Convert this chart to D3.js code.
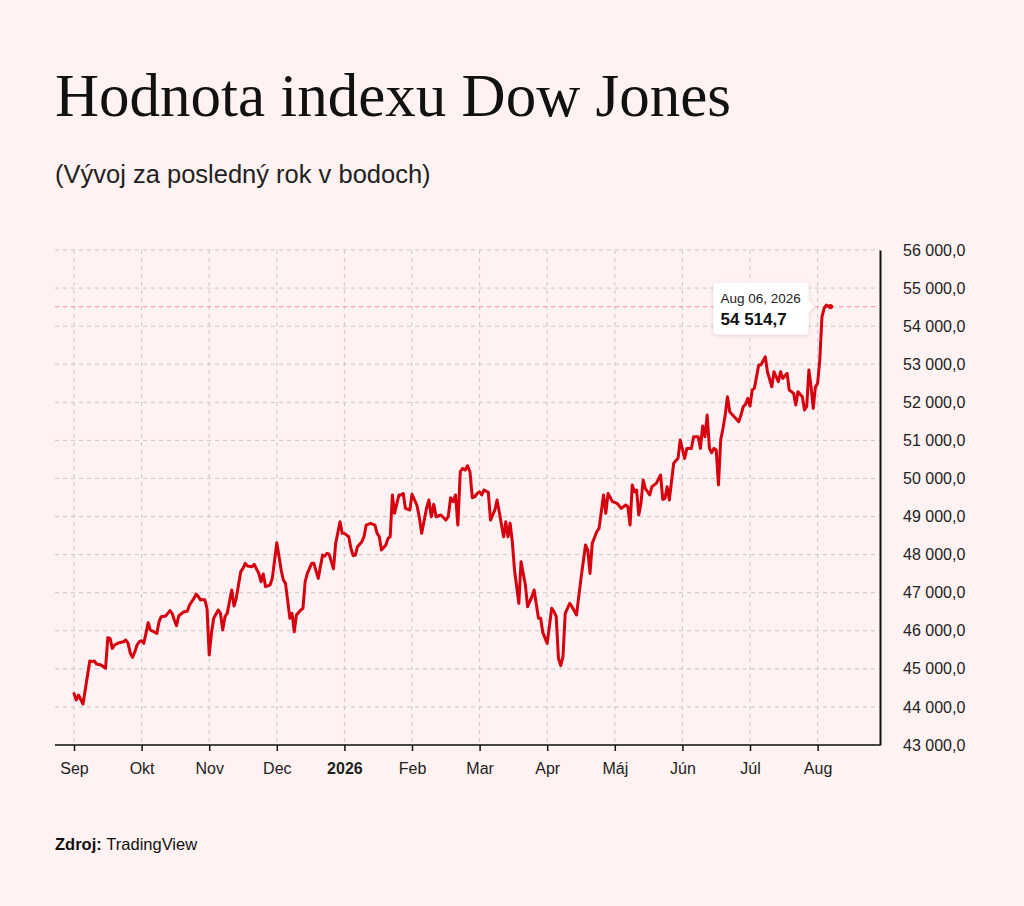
<!DOCTYPE html>
<html>
<head>
<meta charset="utf-8">
<script src="https://cdn.jsdelivr.net/npm/d3@7"></script>
<style>
  body { margin: 0; background: #fff2f2; }
  svg { display: block; }
</style>
</head>
<body>
<svg id="chart" width="1024" height="906"></svg>
<script>
// --- data ---
const dates = [
  "2025-09-01","2025-09-02","2025-09-03","2025-09-05","2025-09-08","2025-09-09","2025-09-10","2025-09-11","2025-09-13","2025-09-15","2025-09-16","2025-09-17","2025-09-18","2025-09-19","2025-09-21","2025-09-23","2025-09-24","2025-09-25","2025-09-26","2025-09-27","2025-09-28","2025-09-29","2025-09-30",
  "2025-10-01","2025-10-02","2025-10-03","2025-10-04","2025-10-05","2025-10-06","2025-10-08","2025-10-09","2025-10-10","2025-10-12","2025-10-13","2025-10-14","2025-10-15","2025-10-16","2025-10-17","2025-10-18","2025-10-20","2025-10-22","2025-10-23","2025-10-25","2025-10-26","2025-10-27","2025-10-28","2025-10-29","2025-10-30","2025-10-31",
  "2025-11-01","2025-11-02","2025-11-03","2025-11-05","2025-11-06","2025-11-07","2025-11-08","2025-11-09","2025-11-11","2025-11-12","2025-11-13","2025-11-15","2025-11-16","2025-11-17","2025-11-18","2025-11-20","2025-11-21","2025-11-23","2025-11-24","2025-11-25","2025-11-26","2025-11-28","2025-11-29",
  "2025-12-01","2025-12-03","2025-12-04","2025-12-05","2025-12-07","2025-12-08","2025-12-09","2025-12-10","2025-12-12","2025-12-13","2025-12-14","2025-12-15","2025-12-17","2025-12-18","2025-12-20","2025-12-22","2025-12-23","2025-12-24","2025-12-25","2025-12-27","2025-12-28","2025-12-30","2025-12-31",
  "2026-01-01","2026-01-03","2026-01-04","2026-01-05","2026-01-06","2026-01-07","2026-01-09","2026-01-10","2026-01-11","2026-01-13","2026-01-15","2026-01-16","2026-01-17","2026-01-18","2026-01-20","2026-01-21","2026-01-22","2026-01-23","2026-01-24","2026-01-26","2026-01-27","2026-01-28","2026-01-29","2026-01-31",
  "2026-02-01","2026-02-03","2026-02-04","2026-02-05","2026-02-07","2026-02-08","2026-02-09","2026-02-10","2026-02-11","2026-02-13","2026-02-15","2026-02-16","2026-02-17","2026-02-18","2026-02-19","2026-02-20","2026-02-21","2026-02-22","2026-02-23","2026-02-24","2026-02-25","2026-02-26","2026-02-27","2026-02-28",
  "2026-03-01","2026-03-02","2026-03-03","2026-03-05","2026-03-06","2026-03-08","2026-03-09","2026-03-10","2026-03-12","2026-03-13","2026-03-14","2026-03-15","2026-03-16","2026-03-17","2026-03-19","2026-03-20","2026-03-22","2026-03-23","2026-03-25","2026-03-26","2026-03-28","2026-03-29","2026-03-30",
  "2026-04-01","2026-04-03","2026-04-04","2026-04-05","2026-04-06","2026-04-07","2026-04-08","2026-04-09","2026-04-11","2026-04-12","2026-04-14","2026-04-16","2026-04-18","2026-04-19","2026-04-20","2026-04-21","2026-04-23","2026-04-24","2026-04-26","2026-04-27","2026-04-28","2026-04-30",
  "2026-05-02","2026-05-04","2026-05-06","2026-05-07","2026-05-08","2026-05-09","2026-05-10","2026-05-11","2026-05-12","2026-05-13","2026-05-14","2026-05-15","2026-05-16","2026-05-17","2026-05-18","2026-05-20","2026-05-22","2026-05-23","2026-05-24","2026-05-25","2026-05-26","2026-05-28","2026-05-30","2026-05-31",
  "2026-06-02","2026-06-03","2026-06-05","2026-06-06","2026-06-08","2026-06-09","2026-06-10","2026-06-11","2026-06-12","2026-06-13","2026-06-14","2026-06-15","2026-06-16","2026-06-17","2026-06-18","2026-06-19","2026-06-20","2026-06-21","2026-06-22","2026-06-24","2026-06-26","2026-06-27","2026-06-28","2026-06-29","2026-06-30",
  "2026-07-01","2026-07-02","2026-07-03","2026-07-05","2026-07-06","2026-07-08","2026-07-09","2026-07-11","2026-07-12","2026-07-14","2026-07-15","2026-07-16","2026-07-18","2026-07-19","2026-07-21","2026-07-22","2026-07-23","2026-07-25","2026-07-26","2026-07-27","2026-07-28","2026-07-29","2026-07-30","2026-07-31",
  "2026-08-01","2026-08-02","2026-08-03","2026-08-04","2026-08-05","2026-08-06"
];
const values = [
  44350,44182,44313,44077,45206,45188,45206,45127,45100,45014,45818,45800,45539,45626,45687,45713,45757,45670,45408,45303,45450,45626,45713,
  45740,45670,45933,46212,46020,45993,45933,46238,46370,46388,46458,46528,46458,46283,46133,46388,46485,46519,46677,46852,46965,46900,46808,46820,46808,46590,
  45363,45933,46327,46545,46458,46020,46370,46458,47070,46650,46852,47551,47638,47770,47700,47682,47743,47507,47288,47490,47157,47201,47376,
  48312,47595,47333,47245,46327,46458,45975,46414,46545,46590,47288,47507,47770,47770,47376,47990,47963,48033,48010,47625,48300,48864,48558,
  48558,48470,48164,47972,47990,48208,48339,48470,48777,48822,48777,48558,48470,48121,48252,48427,48470,49565,49085,49565,49565,49605,49213,49171,
  49583,49303,48995,48558,49213,49434,48995,49320,48995,49040,48908,48995,49493,49390,49565,48777,50177,50265,50221,50335,50177,49493,49520,49605,
  49650,49565,49697,49636,48908,49171,49434,49126,48470,48864,48470,48822,48339,47600,46721,47813,47201,46632,46895,47070,46327,46327,45950,
  45670,46590,46501,46370,45277,45083,45319,46458,46721,46632,46414,47376,48252,48121,47507,48296,48601,48689,49565,49085,49605,49390,
  49348,49213,49303,49258,48777,49828,49652,49697,49040,49348,49959,49741,49652,49565,49784,49871,50090,49450,49477,49784,49434,50397,50528,51009,
  50528,50790,50790,51096,51096,50790,51377,51096,51666,50790,50676,50790,50750,49828,51009,51314,51666,52146,51753,51622,51490,51666,51884,51950,52102,
  51900,52322,52366,52978,52978,53197,52803,52409,52803,52540,52803,52628,52759,52322,52234,51928,52278,52146,51797,51884,52848,52409,51840,52409,
  52497,53110,54247,54466,54553,54514.7
];
const monthLabels = ["Sep","Okt","Nov","Dec","2026","Feb","Mar","Apr","Máj","Jún","Júl","Aug"];
const yTicks = [43000,44000,45000,46000,47000,48000,49000,50000,51000,52000,53000,54000,55000,56000];

const titleText = "Hodnota indexu Dow Jones";
const subtitleText = "(Vývoj za posledný rok v bodoch)";

// --- chart ---
const drawChart = (svg_name) => {
	let chart = d3.select(svg_name);
	let margin = {left:55, right:144, top:250, bottom:161};
	let width = +chart.attr("width");
	let height = +chart.attr("height");
	let plotRight = width - margin.right;
	let plotBottom = height - margin.bottom;

	let parse = d3.timeParse("%Y-%m-%d");
	let data = dates.map((d,i) => ({date: parse(d), value: values[i]}));

	// months are spaced evenly on the reference, so map each month start to an even step
	let firstTick = 74, monthStep = 67.6;
	let monthStarts = d3.timeMonth.range(new Date(2025,7,1), new Date(2026,8,2));
	let x = d3.scaleTime()
						.domain(monthStarts)
						.range(monthStarts.map((d,i) => firstTick + (i - 1) * monthStep));
	let tickDates = monthStarts.slice(1, 13);

	let y = d3.scaleLinear()
						.domain([43000, 56000])
						.range([plotBottom, margin.top]);

	let skFormat = d3.formatLocale({decimal:",", thousands:" ", grouping:[3], currency:["","€"]}).format(",.1f");

	addTitles(chart, margin);
	addGrid(chart, x, y, tickDates, margin, plotRight, plotBottom);
	addXAxis(chart, x, tickDates, margin, plotRight, plotBottom);
	addYAxis(chart, y, plotRight, skFormat);
	addLine(chart, data, x, y, margin, plotRight);
	addTooltip(chart, data[data.length - 1], x, y, skFormat);
}

const addTitles = (chart, margin) => {
	chart.append("text")
		.attr("x", margin.left).attr("y", 116)
		.style("font-family", "'Liberation Serif', 'Times New Roman', serif")
		.style("font-size", "61px")
		.style("fill", "#111")
		.text(titleText);
	chart.append("text")
		.attr("x", margin.left).attr("y", 183)
		.style("font-family", "'Liberation Sans', Arial, sans-serif")
		.style("font-size", "25.5px")
		.style("fill", "#222")
		.text(subtitleText);
	let src = chart.append("text")
		.attr("x", margin.left).attr("y", 850)
		.style("font-family", "'Liberation Sans', Arial, sans-serif")
		.style("font-size", "16.5px")
		.style("fill", "#111");
	src.append("tspan").style("font-weight", "bold").text("Zdroj: ");
	src.append("tspan").text("TradingView");
}

const addGrid = (chart, x, y, tickDates, margin, plotRight, plotBottom) => {
	let grid = chart.append("g").classed("grid", true)
		.attr("stroke", "#cbc6c6").attr("stroke-width", 1).attr("stroke-dasharray", "4,4");
	grid.selectAll("line.h")
		.data(yTicks)
		.enter().append("line").classed("h", true)
			.attr("x1", margin.left).attr("x2", plotRight)
			.attr("y1", (d) => y(d)).attr("y2", (d) => y(d));
	grid.selectAll("line.v")
		.data(tickDates)
		.enter().append("line").classed("v", true)
			.attr("x1", (d) => x(d)).attr("x2", (d) => x(d))
			.attr("y1", margin.top).attr("y2", plotBottom);
}

const addXAxis = (chart, x, tickDates, margin, plotRight, plotBottom) => {
	let x_axis = d3.axisBottom(x)
		.tickValues(tickDates)
		.tickFormat((d,i) => monthLabels[i])
		.tickSize(6)
		.tickPadding(12);
	let g = chart.append("g")
		.attr("class", "x axis")
		.attr("transform", `translate(0,${plotBottom})`)
		.call(x_axis);
	g.select(".domain").remove();
	g.selectAll(".tick line").attr("stroke", "#111").attr("stroke-width", 1.5);
	g.selectAll(".tick text")
		.style("font-family", "'Liberation Sans', Arial, sans-serif")
		.style("font-size", "16px")
		.style("fill", "#222")
		.style("font-weight", (d,i) => monthLabels[i] === "2026" ? "bold" : "normal");
	chart.append("line")
		.attr("x1", margin.left).attr("x2", plotRight)
		.attr("y1", plotBottom).attr("y2", plotBottom)
		.attr("stroke", "#111").attr("stroke-width", 1.5);
}

const addYAxis = (chart, y, plotRight, fmt) => {
	let y_axis = d3.axisRight(y)
		.tickValues(yTicks)
		.tickFormat(fmt)
		.tickSize(0)
		.tickPadding(23);
	let g = chart.append("g")
		.classed("y axis", true)
		.attr("transform", `translate(${plotRight},0)`)
		.call(y_axis);
	g.select(".domain").attr("stroke", "#111").attr("stroke-width", 2);
	g.selectAll(".tick text")
		.style("font-family", "'Liberation Sans', Arial, sans-serif")
		.style("font-size", "16px")
		.style("fill", "#222");
}

const addLine = (chart, data, x, y, margin, plotRight) => {
	let last = data[data.length - 1];
	chart.append("line")
		.attr("x1", margin.left).attr("x2", plotRight)
		.attr("y1", y(last.value)).attr("y2", y(last.value))
		.attr("stroke", "#f2a3a6").attr("stroke-width", 1.2)
		.attr("stroke-dasharray", "4,4");
	let line = d3.line()
		.x((d) => x(d.date))
		.y((d) => y(d.value));
	chart.append("path")
		.datum(data)
		.attr("d", line)
		.attr("fill", "none")
		.attr("stroke", "#d7000f")
		.attr("stroke-width", 3)
		.attr("stroke-linejoin", "round")
		.attr("stroke-linecap", "round");
	chart.append("circle")
		.attr("cx", x(last.date) + 2).attr("cy", y(last.value))
		.attr("r", 2.6)
		.attr("fill", "#d7000f");
}

const addTooltip = (chart, last, x, y, fmt) => {
	let defs = chart.append("defs");
	defs.append("filter").attr("id", "tipShadow")
		.attr("x", "-20%").attr("y", "-20%").attr("width", "140%").attr("height", "160%")
		.append("feDropShadow")
			.attr("dx", 0).attr("dy", 1).attr("stdDeviation", 2)
			.attr("flood-color", "#000").attr("flood-opacity", 0.15);

	let tipX = x(last.date) - 14, tipY = y(last.value);
	let boxW = 95, boxH = 52, r = 4;
	let right = tipX - 6, left = right - boxW, top = tipY - 24, bottom = top + boxH;
	let path = `M${left + r},${top} H${right - r} Q${right},${top} ${right},${top + r}
		V${tipY - 6} L${tipX},${tipY} L${right},${tipY + 6}
		V${bottom - r} Q${right},${bottom} ${right - r},${bottom}
		H${left + r} Q${left},${bottom} ${left},${bottom - r}
		V${top + r} Q${left},${top} ${left + r},${top} Z`;
	let tip = chart.append("g").classed("tooltip", true);
	tip.append("path")
		.attr("d", path)
		.attr("fill", "#fff")
		.attr("filter", "url(#tipShadow)");
	tip.append("text")
		.attr("x", left + 7).attr("y", top + 20)
		.style("font-family", "'Liberation Sans', Arial, sans-serif")
		.style("font-size", "13.5px")
		.style("fill", "#222")
		.text(d3.timeFormat("%b %d, %Y")(last.date));
	tip.append("text")
		.attr("x", left + 7).attr("y", top + 42)
		.style("font-family", "'Liberation Sans', Arial, sans-serif")
		.style("font-size", "17px")
		.style("font-weight", "bold")
		.style("fill", "#111")
		.text(fmt(last.value));
}

drawChart("#chart");
</script>
</body>
</html>
